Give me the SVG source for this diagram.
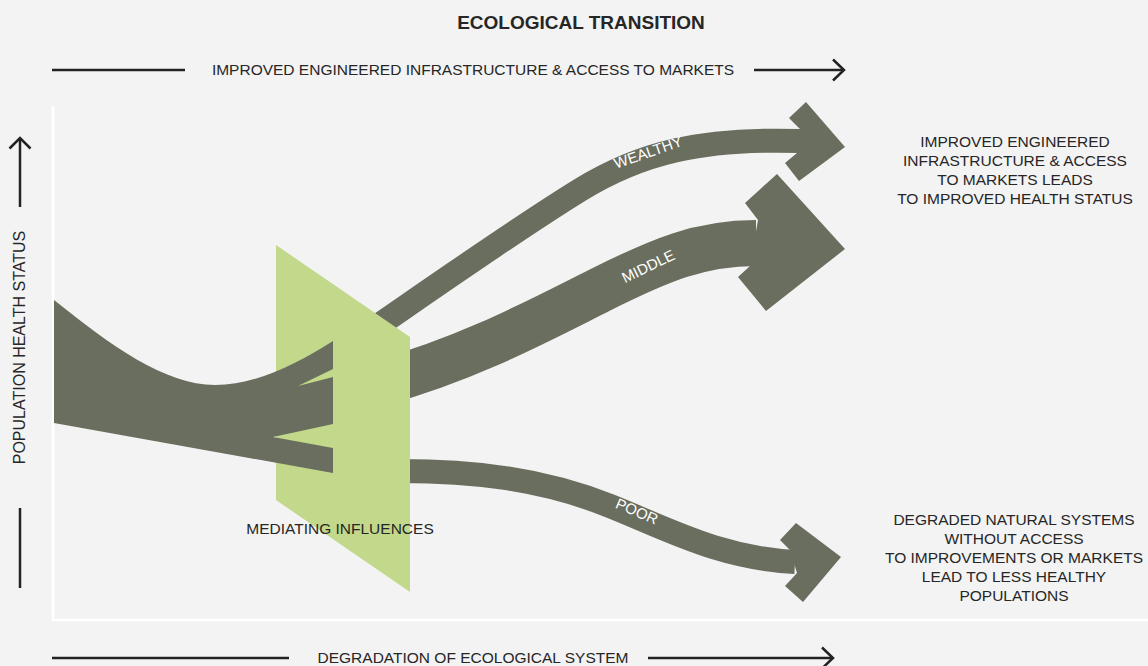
<svg xmlns="http://www.w3.org/2000/svg" width="1148" height="666" viewBox="0 0 1148 666">
<style>
.t{font-family:"Liberation Sans",Arial,sans-serif;font-size:15.5px;fill:#262626}
.c{text-anchor:middle}
.lbl{font-family:"Liberation Sans",Arial,sans-serif;font-size:15px;fill:#ffffff;text-anchor:middle;dominant-baseline:central}
.ax{stroke:#222;stroke-width:2.5;fill:none}
.band{fill:none;stroke:#6a6e5e}
.g{fill:#6a6e5e}
</style>
<rect width="1148" height="666" fill="#f3f3f3"/>
<g id="frame">
<path d="M53,106 V620 H1148" fill="none" stroke="#ffffff" stroke-width="2.5"/>
</g>
<g id="title"><text class="t c" x="581" y="29" style="font-size:19px;font-weight:bold">ECOLOGICAL TRANSITION</text></g>
<g id="top-axis">
<line class="ax" x1="52" y1="70" x2="185" y2="70"/>
<text class="t c" x="473" y="75">IMPROVED ENGINEERED INFRASTRUCTURE &amp; ACCESS TO MARKETS</text>
<line class="ax" x1="754" y1="70" x2="844" y2="70"/>
<polyline class="ax" points="833,59.5 844,70 833,80.5"/>
</g>
<g id="bottom-axis">
<line class="ax" x1="52" y1="658" x2="289" y2="658"/>
<text class="t c" x="473" y="663">DEGRADATION OF ECOLOGICAL SYSTEM</text>
<line class="ax" x1="648" y1="658" x2="833" y2="658"/>
<polyline class="ax" points="822,647.5 833,658 822,668.5"/>
</g>
<g id="left-axis">
<line class="ax" x1="20" y1="138" x2="20" y2="207"/>
<polyline class="ax" points="9.5,148.5 20,138 30.5,148.5"/>
<text class="t c" transform="translate(25,347.5) rotate(-90)" style="font-size:16px">POPULATION HEALTH STATUS</text>
<line class="ax" x1="20" y1="508" x2="20" y2="588"/>
</g>
<g id="connectors">
<g id="wealthy">
<path class="band" stroke-width="24" d="M360,338 C430,290 515,230 580,190 C640,153 700,138 800,141"/>
<polygon class="g" points="800,129 789,118 806,102 845,147 799,181 785,163 797,153"/>
<text class="lbl" transform="translate(648,152) rotate(-19)">WEALTHY</text>
</g>
<g id="middle">
<path class="band" stroke-width="46" d="M380,383 C470,358 540,320 600,290 C660,260 700,243 756,243"/>
<polygon class="g" points="758,220 745,203 777,174 845,249 766,311 738,277 750,266"/>
<text class="lbl" transform="translate(648,266) rotate(-26)">MIDDLE</text>
</g>
<g id="poor">
<path class="band" stroke-width="24" d="M400,471 C470,471 540,478 610,506 C670,530 720,558 795,562"/>
<polygon class="g" points="790,550 780,540 796,523 841,557 803,602 785,586 797,573"/>
<text class="lbl" transform="translate(637,511) rotate(23)">POOR</text>
</g>
</g>
<g id="mediating-influences">
<polygon points="276,245 410,337 410,592 276,500" fill="#c2d88a"/>
</g>
<g id="population-trunk">
<path class="g" d="M54,300 C110,345 165,385 215,385 C255,385 295,365 333,341 L333,369 L298,386 L333,377 L333,424 L273,437 L333,448 L333,473 L54,423 Z"/>
</g>
<g id="mediating-label"><text class="t c" x="340" y="534">MEDIATING INFLUENCES</text></g>
<g id="outcome-improved">
<text class="t c" x="1015" y="147">IMPROVED ENGINEERED</text>
<text class="t c" x="1015" y="166">INFRASTRUCTURE &amp; ACCESS</text>
<text class="t c" x="1015" y="185">TO MARKETS LEADS</text>
<text class="t c" x="1015" y="204">TO IMPROVED HEALTH STATUS</text>
</g>
<g id="outcome-degraded">
<text class="t c" x="1014" y="525">DEGRADED NATURAL SYSTEMS</text>
<text class="t c" x="1014" y="544">WITHOUT ACCESS</text>
<text class="t c" x="1014" y="563">TO IMPROVEMENTS OR MARKETS</text>
<text class="t c" x="1014" y="582">LEAD TO LESS HEALTHY</text>
<text class="t c" x="1014" y="601">POPULATIONS</text>
</g>
</svg>
